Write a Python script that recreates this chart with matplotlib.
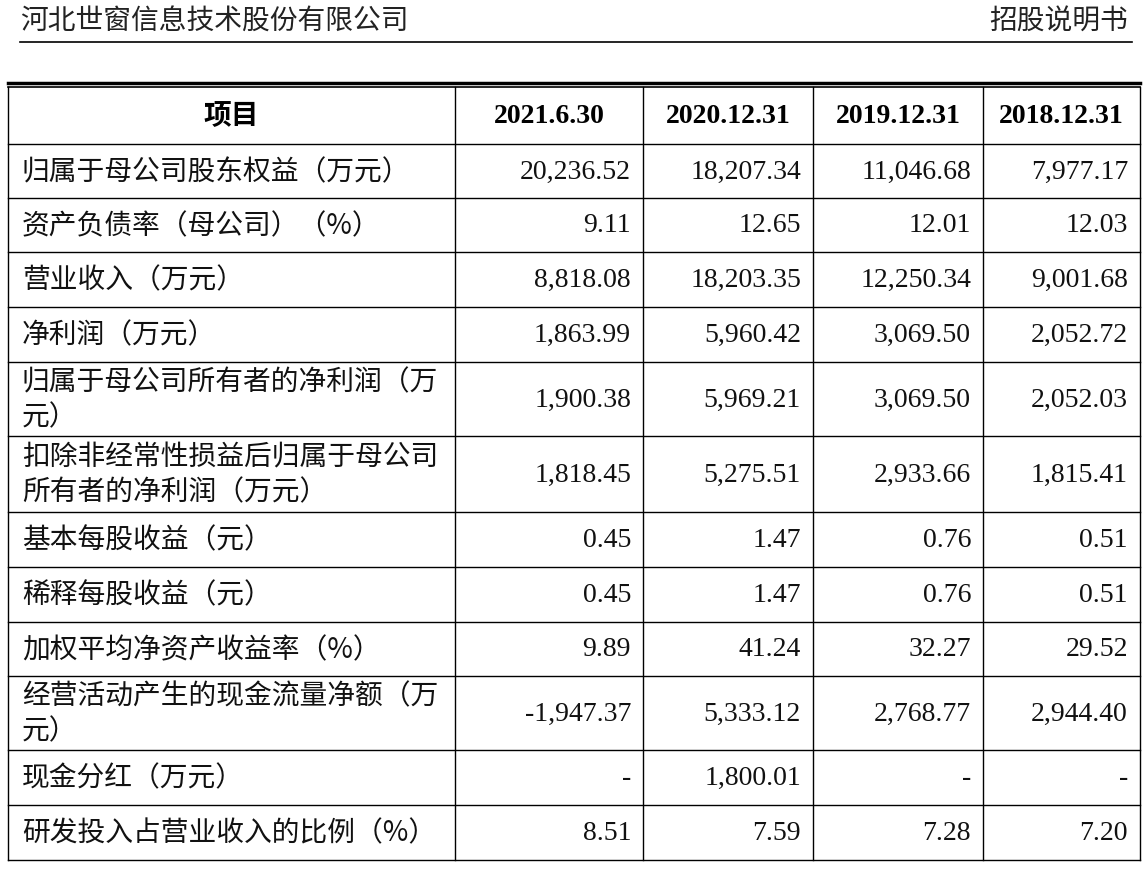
import matplotlib
matplotlib.use("Agg")
import matplotlib.pyplot as plt

plt.rcParams['font.family'] = ['Noto Sans CJK SC', 'DejaVu Sans']

company = "河北世窗信息技术股份有限公司"
doc_title = "招股说明书"
header_first = "项目"
periods = ["2021.6.30", "2020.12.31", "2019.12.31", "2018.12.31"]
items = ["归属于母公司股东权益（万元）", "资产负债率（母公司）（%）", "营业收入（万元）",
         "净利润（万元）", "归属于母公司所有者的净利润（万\n元）",
         "扣除非经常性损益后归属于母公司\n所有者的净利润（万元）", "基本每股收益（元）",
         "稀释每股收益（元）", "加权平均净资产收益率（%）",
         "经营活动产生的现金流量净额（万\n元）", "现金分红（万元）", "研发投入占营业收入的比例（%）"]
v2021 = ["20,236.52", "9.11", "8,818.08", "1,863.99", "1,900.38", "1,818.45", "0.45", "0.45", "9.89", "-1,947.37", "-", "8.51"]
v2020 = ["18,207.34", "12.65", "18,203.35", "5,960.42", "5,969.21", "5,275.51", "1.47", "1.47", "41.24", "5,333.12", "1,800.01", "7.59"]
v2019 = ["11,046.68", "12.01", "12,250.34", "3,069.50", "3,069.50", "2,933.66", "0.76", "0.76", "32.27", "2,768.77", "-", "7.28"]
v2018 = ["7,977.17", "12.03", "9,001.68", "2,052.72", "2,052.03", "1,815.41", "0.51", "0.51", "29.52", "2,944.40", "-", "7.20"]
values = [v2021, v2020, v2019, v2018]

W, H = 1148, 878
fig = plt.figure(figsize=(W/100, H/100), dpi=100)
ax = fig.add_axes([0, 0, 1, 1])
ax.set_xlim(0, W); ax.set_ylim(H, 0); ax.axis('off')

col_x = [8, 455, 643, 813, 983, 1140]
row_y = [88, 145, 199, 253, 308, 363, 437, 513, 568, 623, 677, 751, 806, 861]

serif = ['Liberation Serif', 'DejaVu Serif']
cjk = ['Noto Sans CJK SC', 'DejaVu Sans']
fs = 20

ax.text(20, 22, company, fontsize=fs, family=cjk, va='center', ha='left', color='#222')
ax.text(1128, 22, doc_title, fontsize=fs, family=cjk, va='center', ha='right', color='#222')
ax.plot([20, 1132], [43, 43], color='black', lw=1.2)

ax.plot([col_x[0], col_x[-1]], [84, 84], color='black', lw=2.5)
ax.plot([col_x[0], col_x[-1]], [88, 88], color='black', lw=1.2)
for y in row_y[1:]:
    ax.plot([col_x[0], col_x[-1]], [y, y], color='black', lw=1.0)
for x in col_x:
    ax.plot([x, x], [row_y[0], row_y[-1]], color='black', lw=1.0)

hy = (row_y[0] + row_y[1]) / 2
ax.text((col_x[0] + col_x[1]) / 2, hy, header_first, fontsize=fs, family=cjk,
        weight='bold', ha='center', va='center')
for j, p in enumerate(periods):
    ax.text((col_x[j+1] + col_x[j+2]) / 2, hy, p, fontsize=fs, family=serif,
            weight='bold', ha='center', va='center')

for i, name in enumerate(items):
    cy = (row_y[i+1] + row_y[i+2]) / 2
    ax.text(22, cy, name, fontsize=fs, family=cjk, ha='left', va='center',
            linespacing=1.2, color='#111')
    for j in range(4):
        ax.text(col_x[j+2] - 12, cy, values[j][i], fontsize=fs, family=serif,
                ha='right', va='center', color='#111')

fig.savefig("out.png", dpi=100)
